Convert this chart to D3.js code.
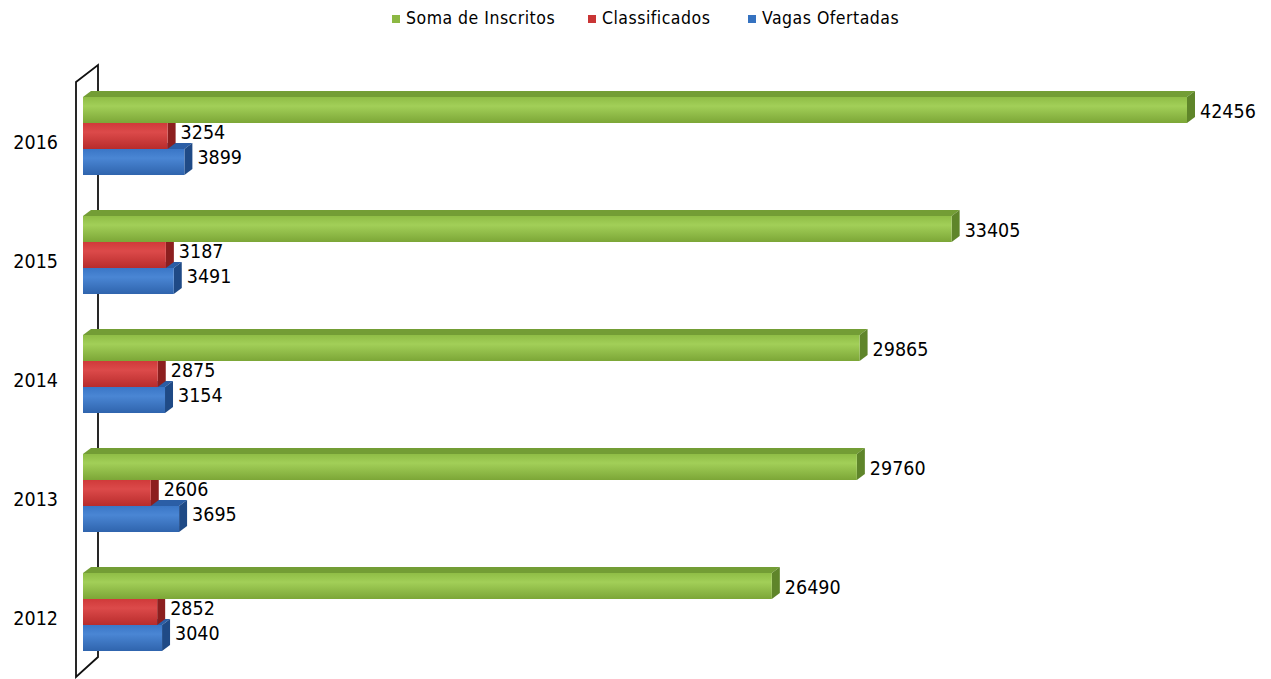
<!DOCTYPE html>
<html>
<head>
<meta charset="utf-8">
<script src="https://cdn.jsdelivr.net/npm/d3@7"></script>
<style>
  body { margin: 0; background: #fff; }
  text { font-family: "DejaVu Sans Condensed", "DejaVu Sans", sans-serif; fill: #000; }
</style>
</head>
<body>
<div id="chart"></div>
<script>
// data
var years = ['2016', '2015', '2014', '2013', '2012'];
var seriesNames = ['Soma de Inscritos', 'Classificados', 'Vagas Ofertadas'];
var inscritos = [42456, 33405, 29865, 29760, 26490];
var classificados = [3254, 3187, 2875, 2606, 2852];
var vagas = [3899, 3491, 3154, 3695, 3040];

var width = 1271, height = 679;
var depthX = 8, depthY = 6;

var colors = {
  'Soma de Inscritos': {light: '#a2cf58', mid: '#8fbd46', dark: '#7ca637', top: '#739d35', side: '#5f852a', legend: '#8cb843'},
  'Classificados':     {light: '#dc4a4a', mid: '#d03a3a', dark: '#b82c2c', top: '#a82626', side: '#8c1f1f', legend: '#c93535'},
  'Vagas Ofertadas':   {light: '#4a86d4', mid: '#3a76c6', dark: '#2f64ad', top: '#2b5ea6', side: '#1f4a86', legend: '#3572c0'}
};
var values = {
  'Soma de Inscritos': inscritos,
  'Classificados': classificados,
  'Vagas Ofertadas': vagas
};
// label vertical nudge per series (relative to front face centre)
var labelNudge = {'Soma de Inscritos': 3, 'Classificados': -3, 'Vagas Ofertadas': -4};

var svg = d3.select('#chart').append('svg')
    .attr('width', width)
    .attr('height', height);

var defs = svg.append('defs');
seriesNames.forEach(function(s, i){
  var g = defs.append('linearGradient')
      .attr('id', 'grad' + i)
      .attr('x1', 0).attr('y1', 0).attr('x2', 0).attr('y2', 1);
  g.append('stop').attr('offset', '0%').attr('stop-color', colors[s].mid);
  g.append('stop').attr('offset', '35%').attr('stop-color', colors[s].light);
  g.append('stop').attr('offset', '100%').attr('stop-color', colors[s].dark);
});

var xScale = d3.scaleLinear()
    .domain([0, 45000])
    .range([83, 83 + 45000 * (1104 / 42456)]);

var yScale = d3.scaleBand()
    .domain(years)
    .range([76.5, 671.5])
    .paddingInner(0.3445)
    .paddingOuter(0.17225);

var inner = d3.scaleBand()
    .domain(seriesNames)
    .range([0, yScale.bandwidth()]);

// back wall
var wall = svg.append('g');
var wx0 = xScale(0) - 7, wx1 = xScale(0) + 15;
wall.append('path')
    .attr('d', 'M' + wx0 + ',82 L' + wx1 + ',65 L' + wx1 + ',657 L' + wx0 + ',677 Z')
    .attr('fill', '#fff')
    .attr('stroke', '#111')
    .attr('stroke-width', 1.8);

// year labels
svg.append('g').selectAll('text')
    .data(years)
    .enter().append('text')
    .attr('x', 58)
    .attr('y', function(d){ return yScale(d) + 47; })
    .attr('text-anchor', 'end')
    .attr('dominant-baseline', 'middle')
    .style('font-size', '19.5px')
    .text(function(d){ return d; });

var bars_g = svg.append('g');

years.forEach(function(yr, i){
  // draw bottom series first so upper bars cover the top faces
  seriesNames.slice().reverse().forEach(function(s){
    var si = seriesNames.indexOf(s);
    var v = values[s][i];
    var x0 = xScale(0), x1 = xScale(v);
    var y0 = yScale(yr) + inner(s);
    var h = inner.bandwidth();
    var g = bars_g.append('g');

    // top face
    g.append('path')
        .attr('d', 'M' + x0 + ',' + y0 + ' L' + (x0 + depthX) + ',' + (y0 - depthY) +
                   ' L' + (x1 + depthX) + ',' + (y0 - depthY) + ' L' + x1 + ',' + y0 + ' Z')
        .attr('fill', colors[s].top);
    // side face
    g.append('path')
        .attr('d', 'M' + x1 + ',' + y0 + ' L' + (x1 + depthX) + ',' + (y0 - depthY) +
                   ' L' + (x1 + depthX) + ',' + (y0 + h - depthY) + ' L' + x1 + ',' + (y0 + h) + ' Z')
        .attr('fill', colors[s].side);
    // front face
    g.append('rect')
        .attr('x', x0)
        .attr('y', y0)
        .attr('width', x1 - x0)
        .attr('height', h)
        .attr('fill', 'url(#grad' + si + ')');

    g.append('text')
        .attr('x', x1 + depthX + 5)
        .attr('y', y0 + h / 2 + labelNudge[s])
        .attr('dominant-baseline', 'middle')
        .style('font-size', '19.5px')
        .text(v);
  });
});

// legend
var legendX = [392, 588, 748];
var legend = svg.append('g');
seriesNames.forEach(function(s, i){
  legend.append('rect')
      .attr('x', legendX[i])
      .attr('y', 15)
      .attr('width', 8)
      .attr('height', 8)
      .attr('fill', colors[s].legend);
  legend.append('text')
      .attr('x', legendX[i] + 14)
      .attr('y', 19)
      .attr('dominant-baseline', 'middle')
      .style('font-size', '17.5px')
      .style('letter-spacing', '0.5px')
      .text(s);
});
</script>
</body>
</html>
